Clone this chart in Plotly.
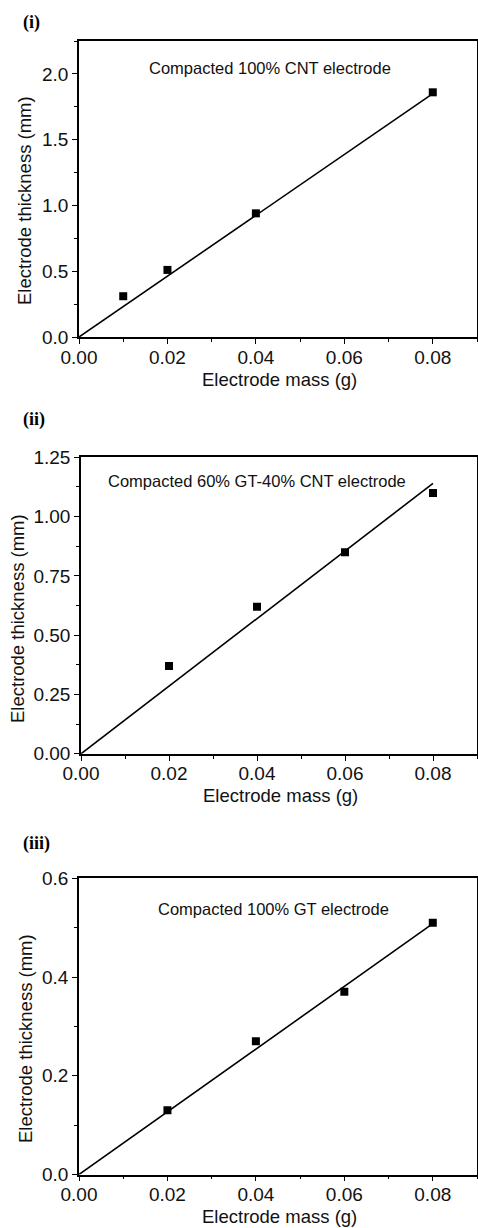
import plotly.graph_objects as go

# ---- data ----
mass_i = [0.01, 0.02, 0.04, 0.08]
thick_i = [0.31, 0.51, 0.94, 1.86]
fit_x_i = [0.0, 0.08]
fit_y_i = [0.0, 1.85]

mass_ii = [0.02, 0.04, 0.06, 0.08]
thick_ii = [0.37, 0.62, 0.85, 1.10]
fit_x_ii = [0.0, 0.08]
fit_y_ii = [0.0, 1.14]

mass_iii = [0.02, 0.04, 0.06, 0.08]
thick_iii = [0.13, 0.27, 0.37, 0.51]
fit_x_iii = [0.0, 0.08]
fit_y_iii = [0.0, 0.508]

labels = ["Compacted 100% CNT electrode",
          "Compacted 60% GT-40% CNT electrode",
          "Compacted 100% GT electrode"]
panel_tags = ["(i)", "(ii)", "(iii)"]
x_title = "Electrode mass (g)"
y_title = "Electrode thickness (mm)"

W, H = 478, 1228
FONT = "Liberation Sans, Arial, sans-serif"
TXT = "#111"

fig = go.Figure()

panels = [
    (mass_i, thick_i, fit_x_i, fit_y_i, "x", "y"),
    (mass_ii, thick_ii, fit_x_ii, fit_y_ii, "x2", "y2"),
    (mass_iii, thick_iii, fit_x_iii, fit_y_iii, "x3", "y3"),
]
for mx, ty, fx, fy, xa, ya in panels:
    fig.add_trace(go.Scatter(x=fx, y=fy, mode="lines", xaxis=xa, yaxis=ya,
                             line=dict(color="black", width=1.6), showlegend=False))
    fig.add_trace(go.Scatter(x=mx, y=ty, mode="markers", xaxis=xa, yaxis=ya,
                             marker=dict(symbol="square", size=8, color="black"),
                             showlegend=False))

def px_x(p):
    return p / W

def px_y(p):
    return 1 - p / H

# pixel layouts: (left, right, top, bottom)
boxes = [(79, 477, 41, 337), (81, 477, 457.3, 753.8), (79, 477, 878.3, 1174.5)]
yranges = [[0, 2.25], [0, 1.25], [0, 0.6]]
ydticks = [0.5, 0.25, 0.2]
yfmts = [".1f", ".2f", ".1f"]

common_axis = dict(showline=True, linecolor="black", linewidth=1.6, mirror=True,
                   ticks="outside", ticklen=5, tickwidth=1.4, tickcolor="black",
                   showgrid=False, zeroline=False, automargin=False,
                   tickfont=dict(family=FONT, size=19, color=TXT))

layout = {}
for i, (l, r, t, b) in enumerate(boxes):
    sfx = "" if i == 0 else str(i + 1)
    layout["xaxis" + sfx] = dict(
        common_axis,
        domain=[px_x(l), px_x(r)],
        anchor="y" + sfx,
        range=[0, 0.09], dtick=0.02, tick0=0, tickformat=".2f",
        ticklabelstandoff=-3,
        minor=dict(dtick=0.01, ticks="outside", ticklen=3, tickwidth=1.2, tickcolor="black"),
    )
    layout["yaxis" + sfx] = dict(
        common_axis,
        domain=[px_y(b), px_y(t)],
        anchor="x" + sfx,
        range=yranges[i], dtick=ydticks[i], tick0=0, tickformat=yfmts[i],
        minor=dict(dtick=ydticks[i] / 2, ticks="outside", ticklen=3, tickwidth=1.2, tickcolor="black"),
    )

annotations = []
# in-plot labels
ann_pos = [(270, 68), (257, 481), (273, 909)]
for (cx, cy), txt in zip(ann_pos, labels):
    annotations.append(dict(text=txt, x=px_x(cx), y=px_y(cy), xref="paper", yref="paper",
                            showarrow=False, xanchor="center", yanchor="middle",
                            font=dict(family=FONT, size=16.5, color=TXT)))
# panel tags
tag_pos = [(21, 22), (21, 419), (21, 843)]
for (lx, ly), txt in zip(tag_pos, panel_tags):
    annotations.append(dict(text="<b>" + txt + "</b>", x=px_x(lx), y=px_y(ly), xref="paper", yref="paper",
                            showarrow=False, xanchor="left", yanchor="middle",
                            font=dict(family="Liberation Serif, Times New Roman, serif", size=18, color="black")))
# axis titles
xt_pos = [(279, 379), (280, 795), (279, 1216)]
for cx, cy in xt_pos:
    annotations.append(dict(text=x_title, x=px_x(cx), y=px_y(cy), xref="paper", yref="paper",
                            showarrow=False, xanchor="center", yanchor="middle",
                            font=dict(family=FONT, size=18.5, color=TXT)))
yt_pos = [(25, 201), (17, 619), (25, 1039)]
for cx, cy in yt_pos:
    annotations.append(dict(text=y_title, x=px_x(cx), y=px_y(cy), xref="paper", yref="paper",
                            showarrow=False, xanchor="center", yanchor="middle", textangle=-90,
                            font=dict(family=FONT, size=18.5, color=TXT)))

fig.update_layout(**layout)
fig.update_layout(width=W, height=H, margin=dict(l=0, r=0, t=0, b=0),
                  paper_bgcolor="white", plot_bgcolor="white",
                  annotations=annotations, showlegend=False)

fig.write_html("out.html")
